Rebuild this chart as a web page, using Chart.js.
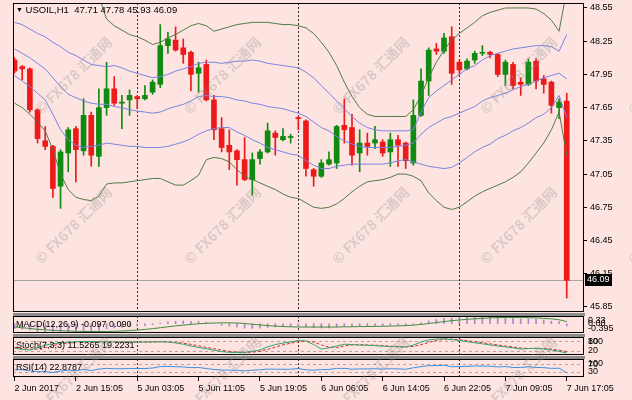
<!DOCTYPE html>
<html>
<head>
<meta charset="utf-8">
<title>USOIL H1</title>
<script src="https://cdn.jsdelivr.net/npm/chart.js@4.4.1/dist/chart.umd.min.js"></script>
<style>
  html, body { margin: 0; padding: 0; background: #fde4e0; }
  #wrap { position: relative; width: 632px; height: 400px; overflow: hidden; background: #fde4e0; }
  #wrap canvas { position: absolute; left: 0; }
  .sep { position: absolute; left: 13px; width: 572px; height: 3px; background: #8c8c8c; }
  .wm { position: absolute; white-space: nowrap; font: bold 14px "Noto Sans CJK SC", sans-serif;
        color: rgba(140, 140, 140, 0.3); transform: translate(-50%, -50%) rotate(-45deg); pointer-events: none; }
  #title { position: absolute; left: 16px; top: 4px; font: 9.5px "Liberation Sans", Arial, sans-serif; color: #000; white-space: pre; }
  #title span { font-size: 7px; vertical-align: 1px; }
</style>
</head>
<body>
<div id="wrap">
  <canvas id="mainChart" width="632" height="314" style="top:0"></canvas>
  <canvas id="macdChart" width="632" height="23" style="top:313px"></canvas>
  <canvas id="stochChart" width="632" height="24" style="top:334px"></canvas>
  <canvas id="rsiChart" width="632" height="45" style="top:355px"></canvas>
  <div class="sep" style="top:313px"></div>
  <div class="sep" style="top:334px"></div>
  <div class="sep" style="top:356px"></div>
  <div id="title"></div>
</div>
<script>
// hourly candles, oldest first
const open = [48.08, 48.02, 48.00, 47.63, 47.35, 47.30, 46.94, 47.24, 47.46, 47.26,
  47.58, 47.21, 47.65, 47.82, 47.69, 47.72, 47.75, 47.73, 47.79, 47.86,
  48.21, 48.26, 48.19, 48.15, 47.96, 48.04, 47.72, 47.46, 47.31, 47.26,
  47.18, 47.00, 47.19, 47.25, 47.42, 47.36, 47.38, 47.56, 47.53, 47.09,
  47.03, 47.14, 47.15, 47.49, 47.47, 47.24, 47.33, 47.33, 47.34, 47.25,
  47.36, 47.33, 47.15, 47.58, 47.89, 48.18, 48.16, 48.29, 48.06, 48.00,
  48.08, 48.14, 48.15, 48.13, 47.95, 48.04, 47.88, 47.86, 48.07, 47.91,
  47.88, 47.65, 47.71];
const high = [48.10, 48.03, 48.01, 47.64, 47.48, 47.31, 47.27, 47.47, 47.48, 47.73,
  47.61, 47.82, 48.06, 47.93, 47.76, 47.81, 47.76, 47.85, 47.90, 48.40,
  48.33, 48.38, 48.27, 48.16, 48.06, 48.08, 47.76, 47.56, 47.45, 47.27,
  47.38, 47.24, 47.27, 47.51, 47.44, 47.46, 47.41, 47.57, 47.54, 47.10,
  47.18, 47.25, 47.49, 47.73, 47.59, 47.45, 47.42, 47.48, 47.36, 47.42,
  47.40, 47.34, 47.72, 48.00, 48.19, 48.23, 48.32, 48.38, 48.08, 48.09,
  48.16, 48.21, 48.16, 48.14, 48.08, 48.06, 47.92, 48.09, 48.09, 47.94,
  47.89, 47.73, 47.78];
const low = [47.96, 47.90, 47.61, 47.33, 47.27, 46.84, 46.74, 47.07, 46.98, 47.22,
  47.12, 47.12, 47.58, 47.67, 47.46, 47.58, 47.64, 47.72, 47.77, 47.83,
  48.14, 48.16, 48.05, 47.80, 47.79, 47.71, 47.36, 47.25, 47.09, 46.95,
  46.99, 46.86, 47.14, 47.24, 47.22, 47.35, 47.33, 47.45, 47.03, 46.94,
  47.02, 47.13, 47.10, 47.33, 47.13, 47.07, 47.22, 47.28, 47.21, 47.12,
  47.12, 47.10, 47.13, 47.57, 47.76, 48.13, 48.14, 47.86, 47.95, 47.99,
  48.05, 48.12, 48.10, 47.93, 47.85, 47.82, 47.76, 47.85, 47.82, 47.78,
  47.60, 47.55, 45.93];
const close = [47.98, 48.00, 47.63, 47.37, 47.30, 46.92, 47.25, 47.45, 47.27, 47.58,
  47.22, 47.65, 47.82, 47.69, 47.70, 47.76, 47.73, 47.76, 47.88, 48.21,
  48.27, 48.17, 48.13, 47.95, 48.01, 47.72, 47.45, 47.29, 47.25, 47.18,
  47.00, 47.18, 47.25, 47.44, 47.38, 47.39, 47.39, 47.55, 47.10, 47.03,
  47.15, 47.18, 47.48, 47.45, 47.22, 47.33, 47.30, 47.36, 47.24, 47.36,
  47.31, 47.17, 47.58, 47.89, 48.17, 48.16, 48.28, 47.96, 47.99, 48.07,
  48.14, 48.15, 48.13, 47.95, 48.06, 47.85, 47.86, 48.06, 47.89, 47.86,
  47.67, 47.70, 46.09];

// Bollinger lines (outer green, inner blue)
const bbUpper2 = [49.05, 49.02, 48.99, 48.96, 48.93, 48.90, 48.86, 48.82, 48.78, 48.74,
  48.70, 48.66, 48.45, 48.39, 48.35, 48.31, 48.29, 48.26, 48.22, 48.24,
  48.28, 48.31, 48.35, 48.39, 48.41, 48.39, 48.34, 48.36, 48.38, 48.40,
  48.41, 48.42, 48.42, 48.42, 48.41, 48.40, 48.40, 48.39, 48.37, 48.32,
  48.24, 48.15, 48.03, 47.88, 47.75, 47.65, 47.59, 47.57, 47.57, 47.57,
  47.57, 47.57, 47.63, 47.76, 47.92, 48.06, 48.17, 48.26, 48.32, 48.37,
  48.42, 48.48, 48.51, 48.53, 48.55, 48.55, 48.55, 48.55, 48.54, 48.50,
  48.44, 48.34, 48.71];
const bbUpper1 = [48.42, 48.40, 48.36, 48.32, 48.29, 48.24, 48.20, 48.15, 48.12, 48.08,
  48.04, 48.03, 48.02, 48.03, 48.01, 47.98, 47.96, 47.94, 47.92, 47.93,
  47.95, 47.98, 48.00, 48.02, 48.05, 48.06, 48.06, 48.05, 48.06, 48.07,
  48.07, 48.08, 48.07, 48.05, 48.04, 48.03, 48.02, 48.01, 47.97, 47.92,
  47.85, 47.78, 47.71, 47.64, 47.57, 47.51, 47.47, 47.45, 47.44, 47.44,
  47.44, 47.44, 47.45, 47.61, 47.74, 47.80, 47.85, 47.90, 47.95, 48.00,
  48.03, 48.08, 48.12, 48.14, 48.16, 48.18, 48.19, 48.20, 48.21, 48.21,
  48.20, 48.16, 48.31];
const bbMiddle = [48.18, 48.14, 48.10, 48.05, 48.00, 47.92, 47.84, 47.77, 47.74, 47.71,
  47.69, 47.68, 47.68, 47.66, 47.65, 47.63, 47.62, 47.61, 47.60, 47.61,
  47.64, 47.66, 47.68, 47.71, 47.75, 47.76, 47.75, 47.75, 47.74, 47.72,
  47.71, 47.69, 47.68, 47.66, 47.65, 47.64, 47.62, 47.60, 47.57, 47.52,
  47.47, 47.44, 47.39, 47.35, 47.32, 47.30, 47.29, 47.29, 47.29, 47.29,
  47.30, 47.31, 47.33, 47.41, 47.47, 47.51, 47.55, 47.57, 47.60, 47.63,
  47.66, 47.71, 47.74, 47.76, 47.78, 47.81, 47.84, 47.86, 47.89, 47.92,
  47.94, 47.96, 47.91];
const bbLower1 = [47.94, 47.89, 47.84, 47.78, 47.72, 47.59, 47.45, 47.36, 47.31, 47.29,
  47.30, 47.31, 47.33, 47.32, 47.31, 47.30, 47.30, 47.29, 47.29, 47.29,
  47.30, 47.32, 47.34, 47.37, 47.41, 47.44, 47.46, 47.47, 47.47, 47.43,
  47.40, 47.36, 47.33, 47.29, 47.27, 47.25, 47.23, 47.22, 47.17, 47.13,
  47.10, 47.10, 47.12, 47.13, 47.14, 47.14, 47.14, 47.14, 47.14, 47.15,
  47.17, 47.18, 47.16, 47.14, 47.12, 47.11, 47.10, 47.11, 47.15, 47.20,
  47.25, 47.29, 47.32, 47.37, 47.40, 47.44, 47.47, 47.51, 47.56, 47.59,
  47.65, 47.76, 47.56];
const bbLower2 = [47.69, 47.65, 47.59, 47.52, 47.44, 47.27, 47.05, 46.91, 46.84, 46.82,
  46.81, 46.85, 46.96, 46.97, 46.97, 46.98, 46.99, 47.00, 47.01, 47.01,
  46.98, 46.95, 46.95, 46.99, 47.04, 47.18, 47.20, 47.19, 47.16, 47.09,
  47.03, 47.00, 46.97, 46.94, 46.91, 46.87, 46.84, 46.83, 46.79, 46.75,
  46.74, 46.75, 46.78, 46.83, 46.89, 46.94, 46.98, 46.99, 47.00, 47.02,
  47.05, 47.05, 47.03, 46.99, 46.88, 46.81, 46.75, 46.73, 46.75, 46.80,
  46.85, 46.89, 46.92, 46.95, 46.98, 47.02, 47.07, 47.15, 47.24, 47.33,
  47.45, 47.61, 47.22];

// sub windows
const macdMain = [-0.20, -0.22, -0.27, -0.33, -0.37, -0.39, -0.38, -0.35, -0.35, -0.31,
  -0.32, -0.27, -0.21, -0.18, -0.15, -0.12, -0.10, -0.08, -0.04, 0.03,
  0.08, 0.11, 0.12, 0.10, 0.10, 0.06, 0.00, -0.06, -0.10, -0.14,
  -0.19, -0.20, -0.19, -0.16, -0.14, -0.13, -0.12, -0.10, -0.14, -0.17,
  -0.18, -0.18, -0.14, -0.11, -0.11, -0.10, -0.09, -0.08, -0.08, -0.07,
  -0.06, -0.07, -0.03, 0.04, 0.12, 0.18, 0.23, 0.24, 0.25, 0.27,
  0.28, 0.29, 0.29, 0.27, 0.26, 0.23, 0.21, 0.21, 0.19, 0.16,
  0.11, 0.09, -0.097];
const macdSignal = [-0.14, -0.17, -0.20, -0.24, -0.26, -0.28, -0.30, -0.31, -0.32, -0.33,
  -0.33, -0.33, -0.33, -0.32, -0.31, -0.29, -0.27, -0.24, -0.21, -0.17,
  -0.13, -0.09, -0.06, -0.03, 0.00, 0.02, 0.03, 0.04, 0.04, 0.03,
  0.01, -0.02, -0.05, -0.08, -0.10, -0.12, -0.13, -0.14, -0.14, -0.14,
  -0.14, -0.14, -0.14, -0.13, -0.13, -0.12, -0.12, -0.11, -0.11, -0.10,
  -0.09, -0.08, -0.06, -0.03, 0.01, 0.05, 0.09, 0.13, 0.16, 0.19,
  0.21, 0.23, 0.25, 0.26, 0.27, 0.27, 0.27, 0.26, 0.25, 0.23,
  0.21, 0.17, 0.09];
const stochMain = [38, 30, 28, 40, 55, 62, 68, 72, 74, 75,
  74, 74, 73, 72, 72, 72, 72, 72, 73, 74,
  72, 67, 60, 50, 42, 35, 27, 19, 15, 13,
  14, 20, 28, 45, 58, 66, 73, 80, 78, 58,
  33, 40, 50, 60, 58, 55, 54, 52, 49, 47,
  45, 44, 55, 72, 84, 88, 90, 86, 80, 74,
  68, 62, 56, 50, 45, 40, 33, 36, 38, 34,
  28, 20, 11.5265];
const stochSignal = [42, 36, 32, 33, 41, 52, 62, 67, 71, 74,
  74, 74, 74, 73, 72, 72, 72, 72, 72, 73,
  73, 71, 66, 59, 51, 42, 35, 27, 20, 16,
  14, 16, 21, 31, 44, 56, 66, 73, 77, 72,
  56, 44, 41, 50, 56, 58, 56, 54, 52, 49,
  47, 45, 48, 57, 70, 81, 87, 88, 85, 80,
  74, 68, 62, 56, 50, 45, 39, 36, 36, 36,
  33, 27, 19.2231];
const rsi = [40, 41, 34, 30, 29, 25, 33, 38, 35, 42,
  36, 44, 48, 46, 46, 47, 47, 47, 50, 58,
  59, 57, 56, 52, 53, 47, 42, 39, 38, 37,
  34, 38, 40, 44, 43, 43, 43, 47, 40, 38,
  41, 42, 48, 48, 43, 45, 45, 46, 44, 46,
  45, 43, 51, 58, 63, 63, 65, 57, 58, 59,
  61, 61, 60, 56, 58, 53, 53, 57, 53, 52,
  48, 49, 22.8787];

// axis labels
const priceTicks = [48.55, 48.25, 47.95, 47.65, 47.35, 47.05, 46.75, 46.45, 46.15, 45.85];
const timeLabels = ['2 Jun 2017', '2 Jun 15:05', '5 Jun 03:05', '5 Jun 11:05', '5 Jun 19:05',
  '6 Jun 06:05', '6 Jun 14:05', '6 Jun 22:05', '7 Jun 09:05', '7 Jun 17:05'];
const barsPerLabel = 8;
const dayBreakBars = [16, 37, 58];
const stochLevels = [20, 80];
const rsiLevels = [30, 70];

const FONT = '"Liberation Sans", Arial, sans-serif';
const BULL = '#108a10', BEAR = '#ee1a1a';
const BB_GREEN = '#4f7a45', BB_BLUE = '#7a82e3';

Chart.defaults.font.family = FONT;
Chart.defaults.font.size = 9;
Chart.defaults.color = '#000';
Chart.defaults.animation = false;

const last = open.length - 1;
document.getElementById('title').innerHTML = '<span>\u25BC</span> USOIL,H1  ' +
  [open[last], high[last], low[last], close[last]].map(v => v.toFixed(2)).join(' ');

const pts = arr => arr.map((v, i) => ({ x: i, y: v }));
const candleColors = open.map((o, i) => close[i] >= o ? BULL : BEAR);

// draws frame, day separators, level lines, panel caption and side labels
const panelDecor = {
  id: 'panelDecor',
  beforeDatasetsDraw(chart, args, o) {
    const { ctx, chartArea: a, scales: { x, y } } = chart;
    ctx.save();
    ctx.lineWidth = 1;
    (o.levels || []).forEach(v => {
      const py = Math.round(y.getPixelForValue(v)) + 0.5;
      ctx.strokeStyle = '#bfa3a3';
      ctx.setLineDash([3, 3]);
      ctx.beginPath(); ctx.moveTo(a.left, py); ctx.lineTo(a.right, py); ctx.stroke();
    });
    if (o.priceLine != null) {
      const py = Math.round(y.getPixelForValue(o.priceLine)) + 0.5;
      ctx.setLineDash([]);
      ctx.strokeStyle = '#a9a2a2';
      ctx.beginPath(); ctx.moveTo(a.left, py); ctx.lineTo(a.right, py); ctx.stroke();
    }
    ctx.strokeStyle = '#303030';
    ctx.setLineDash([2, 2]);
    dayBreakBars.forEach(b => {
      const px = Math.round(x.getPixelForValue(b)) + 0.5;
      ctx.beginPath(); ctx.moveTo(px, a.top); ctx.lineTo(px, a.bottom); ctx.stroke();
    });
    ctx.restore();
  },
  afterDraw(chart, args, o) {
    const { ctx, chartArea: a, scales: { y } } = chart;
    ctx.save();
    ctx.strokeStyle = '#000';
    ctx.lineWidth = 1;
    ctx.strokeRect(Math.round(a.left) + 0.5, Math.round(a.top) + 0.5,
      Math.round(a.right - a.left) - 1, Math.round(a.bottom - a.top) - 1);
    ctx.font = '9px ' + FONT;
    ctx.fillStyle = '#000';
    ctx.textBaseline = 'middle';
    if (o.caption) ctx.fillText(o.caption, a.left + 3, (a.top + a.bottom) / 2);
    (o.sideLabels || []).forEach(l => {
      let py = y.getPixelForValue(l.value);
      py = Math.min(Math.max(py, a.top + 5), a.bottom - 4);
      ctx.fillText(l.text, a.right + 4, py);
    });
    if (o.priceLine != null) {
      const py = Math.round(y.getPixelForValue(o.priceLine));
      ctx.fillStyle = '#000';
      ctx.fillRect(a.right + 1, py - 6, 27, 12);
      ctx.fillStyle = '#fff';
      ctx.fillText(o.priceLine.toFixed(2), a.right + 3, py);
    }
    ctx.restore();
  }
};

function xAxis(show) {
  return {
    type: 'linear', min: -0.2, max: 74.25, display: show, position: 'bottom', offset: false,
    afterBuildTicks: s => { s.ticks = timeLabels.map((t, k) => ({ value: k * barsPerLabel })); },
    afterFit: s => { if (show) { s.height = 23; s.paddingLeft = 0; s.paddingRight = 0; } },
    ticks: { align: 'start', autoSkip: false, maxRotation: 0, padding: 2,
             callback: (v, i) => timeLabels[i] },
    grid: { display: show, drawOnChartArea: false, tickLength: 4, color: '#000', offset: false },
    border: { display: false }
  };
}
function hiddenY(min, max) {
  return {
    position: 'right', min, max,
    afterFit: s => { s.width = 48; s.paddingTop = 0; s.paddingBottom = 0; },
    ticks: { display: false }, grid: { display: false }, border: { display: false }
  };
}
function baseOpts(padding, scales, decor) {
  return {
    responsive: false, events: [],
    layout: { padding },
    scales,
    plugins: { legend: { display: false }, tooltip: { enabled: false }, panelDecor: decor }
  };
}
const line = (data, color, extra) => Object.assign({
  type: 'line', data: pts(data), borderColor: color, borderWidth: 1,
  pointRadius: 0, tension: 0, fill: false, order: 0
}, extra || {});

// price window
new Chart(document.getElementById('mainChart'), {
  type: 'bar',
  data: {
    datasets: [
      line(bbUpper2, BB_GREEN), line(bbUpper1, BB_BLUE), line(bbMiddle, BB_BLUE),
      line(bbLower1, BB_BLUE), line(bbLower2, BB_GREEN),
      { data: open.map((o, i) => ({ x: i, y: [o, close[i]] })), backgroundColor: candleColors,
        barThickness: 5, minBarLength: 1, grouped: false, order: 1 },
      { data: open.map((o, i) => ({ x: i, y: [low[i], high[i]] })), backgroundColor: candleColors,
        barThickness: 1, grouped: false, order: 2 }
    ]
  },
  options: baseOpts({ left: 13, top: 3, bottom: 2, right: 0 }, {
    x: xAxis(false),
    y: {
      position: 'right', min: 45.804, max: 48.595,
      afterFit: s => { s.width = 48; s.paddingTop = 0; s.paddingBottom = 0; },
      afterBuildTicks: s => { s.ticks = priceTicks.map(v => ({ value: v })); },
      ticks: { padding: 3, callback: v => v.toFixed(2) },
      grid: { drawOnChartArea: false, tickLength: 3, color: '#000' },
      border: { display: false }
    }
  }, { priceLine: close[last] }),
  plugins: [panelDecor]
});

// MACD window
new Chart(document.getElementById('macdChart'), {
  type: 'bar',
  data: {
    datasets: [
      line(macdSignal, '#3e8e3e'),
      { data: pts(macdMain), backgroundColor: '#a48ac8', barThickness: 1, grouped: false, order: 1 }
    ]
  },
  options: baseOpts({ left: 13, top: 3, bottom: 3, right: 0 }, {
    x: xAxis(false), y: hiddenY(-0.395, 0.33)
  }, {
    caption: 'MACD(12,26,9) ' + macdMain[last].toFixed(3) + ' ' + macdSignal[last].toFixed(3),
    sideLabels: [{ value: 0.33, text: '0.33' }, { value: 0, text: '0.00' }, { value: -0.395, text: '-0.395' }]
  }),
  plugins: [panelDecor]
});

// Stochastic window
new Chart(document.getElementById('stochChart'), {
  type: 'line',
  data: {
    datasets: [
      line(stochMain, '#2fa56f'),
      line(stochSignal, '#e02828', { borderDash: [3, 2] })
    ]
  },
  options: baseOpts({ left: 13, top: 3, bottom: 3, right: 0 }, {
    x: xAxis(false), y: hiddenY(0, 100)
  }, {
    levels: stochLevels,
    caption: 'Stoch(7,3,3) ' + stochMain[last].toFixed(4) + ' ' + stochSignal[last].toFixed(4),
    sideLabels: [{ value: 100, text: '100' }, { value: 80, text: '80' }, { value: 20, text: '20' }]
  }),
  plugins: [panelDecor]
});

// RSI window with time axis
new Chart(document.getElementById('rsiChart'), {
  type: 'line',
  data: { datasets: [line(rsi, '#3b8fe0')] },
  options: baseOpts({ left: 13, top: 4, bottom: 0, right: 0 }, {
    x: xAxis(true), y: hiddenY(0, 100)
  }, {
    levels: rsiLevels,
    caption: 'RSI(14) ' + rsi[last].toFixed(4),
    sideLabels: [{ value: 100, text: '100' }, { value: 70, text: '70' }, { value: 30, text: '30' }]
  }),
  plugins: [panelDecor]
});

// FX678 watermark grid
const wrap = document.getElementById('wrap');
[73, 222, 370, 518, 666].forEach(cx => {
  [75, 225, 375].forEach(cy => {
    const d = document.createElement('div');
    d.className = 'wm';
    d.textContent = '\u00A9 FX678 \u6C47\u901A\u7F51';
    d.style.left = cx + 'px';
    d.style.top = cy + 'px';
    wrap.appendChild(d);
  });
});
</script>
</body>
</html>
